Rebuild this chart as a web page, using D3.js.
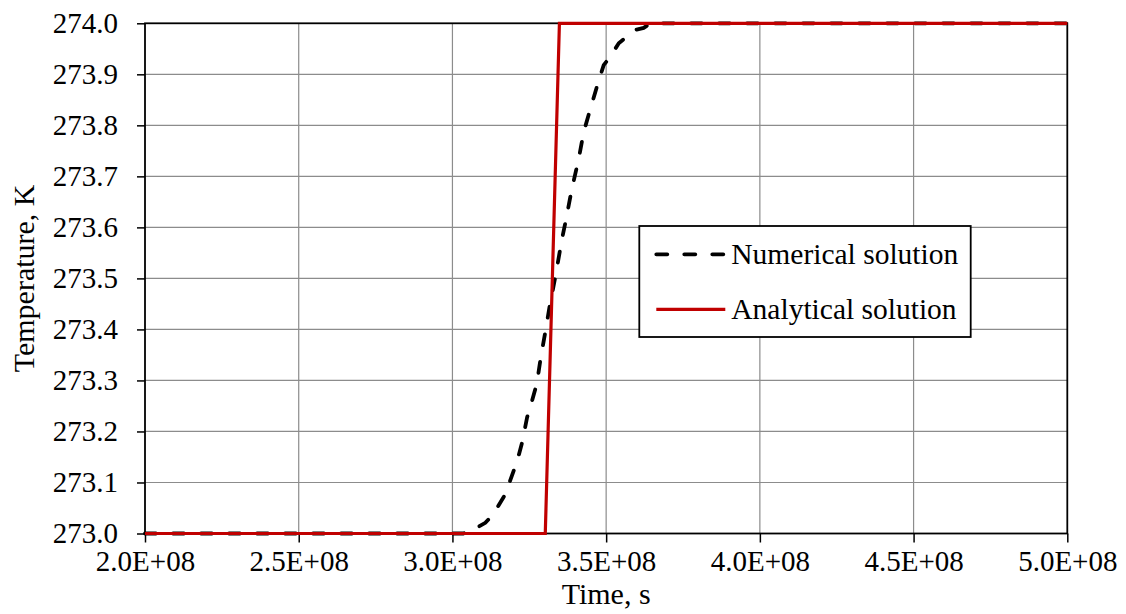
<!DOCTYPE html>
<meta charset="utf-8">
<style>
  body { margin: 0; background: #fff; }
  svg { display: block; font-family: "Liberation Serif", "Times New Roman", serif; }
  .grid line { stroke: #8c8c8c; stroke-width: 1.2; }
  .axis path.domain { display: none; }
  .axis line { stroke: #000; stroke-width: 1.5; }
  .axis text { font-size: 29px; fill: #000; font-family: "Liberation Serif", serif; }
</style>
<body></body>
<script src="https://cdn.jsdelivr.net/npm/d3@7"></script>
<script>

// numerical solution (dashed black)
var numTime = [2.0e8, 3.035e8, 3.084e8, 3.107e8, 3.136e8, 3.149e8, 3.175e8, 3.188e8, 3.211e8,
  3.227e8, 3.243e8, 3.253e8, 3.275e8, 3.286e8, 3.305e8, 3.316e8, 3.335e8, 3.356e8, 3.367e8,
  3.389e8, 3.411e8, 3.427e8, 3.449e8, 3.470e8, 3.492e8, 3.514e8, 3.541e8, 3.568e8, 3.595e8,
  3.622e8, 3.644e8, 5.0e8];
var numTemp = [273.0, 273.0, 273.013, 273.021, 273.040, 273.054, 273.080, 273.104, 273.143,
  273.179, 273.228, 273.247, 273.295, 273.340, 273.405, 273.445, 273.504, 273.576, 273.608,
  273.677, 273.735, 273.787, 273.833, 273.876, 273.918, 273.935, 273.961, 273.974, 273.987,
  273.991, 274.0, 274.0];

// analytical solution (solid red)
var anaTime = [2.0e8, 3.302e8, 3.348e8, 5.0e8];
var anaTemp = [273.0, 273.0, 274.0, 274.0];

var xTicks = [2.0e8, 2.5e8, 3.0e8, 3.5e8, 4.0e8, 4.5e8, 5.0e8];
var yTicks = [273.0, 273.1, 273.2, 273.3, 273.4, 273.5, 273.6, 273.7, 273.8, 273.9, 274.0];
var legendLabels = ["Numerical solution", "Analytical solution"];

var margin = {top: 23.3, right: 58.7, bottom: 80.5, left: 145};
var W = 1126, H = 614;
var w = W - margin.left - margin.right,
    h = H - margin.top - margin.bottom;

var svg = d3.select("body").append("svg")
    .attr("width", W)
    .attr("height", H);

var g = svg.append("g")
    .attr("transform", "translate(" + margin.left + "," + margin.top + ")");

var x = d3.scaleLinear().domain([2.0e8, 5.0e8]).range([0, w]);
var y = d3.scaleLinear().domain([273.0, 274.0]).range([h, 0]);

// gridlines
g.append("g").attr("class", "grid")
  .selectAll("line.v").data(xTicks.slice(1, -1)).enter().append("line")
  .attr("x1", function(d) { return x(d); }).attr("x2", function(d) { return x(d); })
  .attr("y1", 0).attr("y2", h);
g.append("g").attr("class", "grid")
  .selectAll("line.h").data(yTicks.slice(1, -1)).enter().append("line")
  .attr("y1", function(d) { return y(d); }).attr("y2", function(d) { return y(d); })
  .attr("x1", 0).attr("x2", w);

var fmtX = function(d) {
  return d3.format(".1e")(d).replace("e+", "E+0");
};

var xaxis = d3.axisBottom(x).tickValues(xTicks).tickSize(9).tickPadding(8).tickFormat(fmtX);
var yaxis = d3.axisLeft(y).tickValues(yTicks).tickSize(8).tickPadding(19).tickFormat(d3.format(".1f"));

g.append("g").attr("class", "axis")
  .attr("transform", "translate(0," + h + ")")
  .call(xaxis);
g.append("g").attr("class", "axis").call(yaxis);

// plot frame
g.append("rect")
  .attr("x", 0).attr("y", 0).attr("width", w).attr("height", h)
  .attr("fill", "none").attr("stroke", "#000").attr("stroke-width", 1.8);

var line = d3.line()
  .x(function(d) { return x(d[0]); })
  .y(function(d) { return y(d[1]); });

var numData = d3.zip(numTime, numTemp);
var anaData = d3.zip(anaTime, anaTemp);

g.append("path").datum(numData)
  .attr("d", line)
  .attr("fill", "none")
  .attr("stroke", "#000")
  .attr("stroke-width", 3.8)
  .attr("stroke-linecap", "round")
  .attr("stroke-dasharray", "11,17");

g.append("path").datum(anaData)
  .attr("d", line)
  .attr("fill", "none")
  .attr("stroke", "#c00000")
  .attr("stroke-width", 3.2);

// legend
var lg = svg.append("g").attr("transform", "translate(639.3,226)");
lg.append("rect")
  .attr("width", 331.4).attr("height", 111)
  .attr("fill", "#fff").attr("stroke", "#000").attr("stroke-width", 1.8);

var entries = lg.selectAll("g.entry").data(legendLabels).enter().append("g")
  .attr("transform", function(d, i) { return "translate(0," + (28.3 + i * 55) + ")"; });

entries.append("line")
  .attr("x1", 17).attr("x2", 86).attr("y1", 0).attr("y2", 0)
  .attr("stroke", function(d, i) { return i === 0 ? "#000" : "#c00000"; })
  .attr("stroke-width", function(d, i) { return i === 0 ? 3.8 : 3.2; })
  .attr("stroke-linecap", function(d, i) { return i === 0 ? "round" : "butt"; })
  .attr("stroke-dasharray", function(d, i) { return i === 0 ? "11,17" : null; });

entries.append("text")
  .attr("x", 92).attr("y", 10)
  .attr("font-size", 29.5)
  .text(function(d) { return d; });

// axis titles
svg.append("text")
  .attr("x", margin.left + w / 2).attr("y", 604)
  .attr("text-anchor", "middle").attr("font-size", 30)
  .text("Time, s");

svg.append("text")
  .attr("transform", "translate(34," + (margin.top + h / 2) + ") rotate(-90)")
  .attr("text-anchor", "middle").attr("font-size", 30)
  .text("Temperature, K");

</script>
